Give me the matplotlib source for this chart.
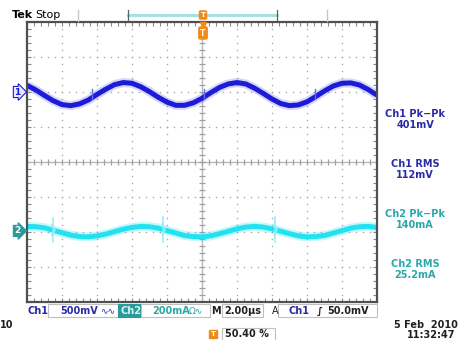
import matplotlib.pyplot as plt
import numpy as np

# screen size in pixels
W, H = 469, 340

# trace samples, x in divisions (0..10), y in divisions from screen centre
x_div = np.arange(0, 10.01, 0.25)
ch1_y = [2.19, 2.06, 1.90, 1.75, 1.64, 1.61, 1.66, 1.77, 1.93, 2.08,
         2.21, 2.27, 2.25, 2.15, 2.01, 1.85, 1.71, 1.62, 1.62, 1.69,
         1.82, 1.98, 2.13, 2.23, 2.27, 2.23, 2.11, 1.96, 1.80, 1.67,
         1.61, 1.63, 1.72, 1.87, 2.03, 2.17, 2.25, 2.26, 2.20, 2.07, 1.91]
ch2_y = [-1.84, -1.85, -1.88, -1.95, -2.02, -2.09, -2.13, -2.14, -2.11, -2.06,
         -1.99, -1.92, -1.87, -1.84, -1.85, -1.89, -1.96, -2.03, -2.10, -2.13,
         -2.14, -2.11, -2.05, -1.98, -1.91, -1.86, -1.84, -1.86, -1.91, -1.98,
         -2.05, -2.11, -2.14, -2.13, -2.10, -2.03, -1.96, -1.89, -1.85, -1.84, -1.87]

# small switching glitches on the traces
ch1_spikes = [1.86, 5.06, 8.23]
ch2_spikes = [0.74, 3.89, 7.09]

# measurement readouts
meas_names = ['Ch1 Pk\u2212Pk', 'Ch1 RMS', 'Ch2 Pk\u2212Pk', 'Ch2 RMS']
meas_values = ['401mV', '112mV', '140mA', '25.2mA']

CH1 = '#1c1cd8'
CH1_TXT = '#2b2ba6'
CH2 = '#22e2f2'
CH2_TXT = '#2aa8a8'
GRID = '#a8a8a8'
ORANGE = '#f08a1c'

plt.rcParams['font.family'] = 'DejaVu Sans'

fig = plt.figure(figsize=(W / 100, H / 100), dpi=100)
ax = fig.add_axes([27 / W, 1 - 302 / H, 350 / W, 280 / H])
ax.set_xlim(0, 10)
ax.set_ylim(-4, 4)


def fx(px):
    return px / W


def fy(py):
    return 1 - py / H


# dotted graticule
dots = np.arange(0, 10.01, 0.2)
for gx in range(1, 10):
    if gx == 5:
        continue
    ax.plot(np.full(41, gx), np.arange(-4, 4.01, 0.2), ls='none', marker='o',
            ms=1.1, mec='none', mfc=GRID)
for gy in range(-3, 4):
    if gy == 0:
        continue
    ax.plot(dots, np.full(len(dots), gy), ls='none', marker='o',
            ms=1.1, mec='none', mfc=GRID)

# centre cross with small ticks
ax.axhline(0, color='#b8b8b8', lw=1.0)
ax.axvline(5, color='#b8b8b8', lw=1.0)
ax.plot(dots, np.zeros(len(dots)), ls='none', marker='|', ms=5, mew=0.9, color='#a0a0a0')
ax.plot(np.full(41, 5), np.arange(-4, 4.01, 0.2), ls='none', marker='_', ms=5,
        mew=0.9, color='#a0a0a0')

# frame ticks
ax.set_xticks(np.arange(0, 10.01, 1))
ax.set_xticks(np.arange(0, 10.01, 0.2), minor=True)
ax.set_yticks(np.arange(-4, 4.01, 1))
ax.set_yticks(np.arange(-4, 4.01, 0.2), minor=True)
ax.tick_params(which='both', direction='in', length=3, width=0.8, color='#8a8a8a',
               top=True, right=True, labelbottom=False, labelleft=False)
for s in ax.spines.values():
    s.set_color('#505050')
    s.set_linewidth(1.6)

# traces
ax.plot(x_div, ch1_y, color=CH1, lw=6.5, alpha=0.18, solid_capstyle='butt')
ax.plot(x_div, ch1_y, color=CH1, lw=3.6, solid_capstyle='butt')
ax.plot(x_div, ch2_y, color=CH2, lw=6.5, alpha=0.25, solid_capstyle='butt')
ax.plot(x_div, ch2_y, color=CH2, lw=3.6, solid_capstyle='butt')

for sx in ch1_spikes:
    yv = np.interp(sx, x_div, ch1_y)
    ax.plot([sx, sx], [yv - 0.05, yv + 0.24], color='#6a6aee', lw=1.0)
for sx in ch2_spikes:
    yv = np.interp(sx, x_div, ch2_y)
    ax.plot([sx, sx], [yv - 0.35, yv + 0.35], color='#8ef0f8', lw=1.1)
    ax.plot([sx - 0.03, sx + 0.06, sx - 0.03], [yv - 0.16, yv, yv + 0.16],
            color='#8ef0f8', lw=1.1)

# channel ground markers
ax.text(-0.27, 2.0, '1', color=CH1, fontsize=6.5, weight='bold', ha='center',
        va='center', clip_on=False,
        bbox=dict(boxstyle='rarrow,pad=0.12', fc='#e6e6ff', ec=CH1, lw=0.8))
ax.text(-0.27, -1.97, '2', color='white', fontsize=6.5, weight='bold', ha='center',
        va='center', clip_on=False,
        bbox=dict(boxstyle='rarrow,pad=0.12', fc='#2a9a9a', ec='#2a9a9a', lw=0.8))

# header
fig.text(fx(12), fy(15), 'Tek', fontsize=8, weight='bold', va='center')
fig.text(fx(35), fy(15), 'Stop', fontsize=8, va='center')
fig.add_artist(plt.Line2D([fx(78), fx(78)], [fy(10), fy(21)], color='#c8c8c8', lw=1))
fig.add_artist(plt.Line2D([fx(327), fx(327)], [fy(10), fy(21)], color='#c8c8c8', lw=1))
fig.add_artist(plt.Line2D([fx(128), fx(277)], [fy(15), fy(15)], color='#a6e2e2', lw=2.2))
for bx in (128, 277):
    fig.add_artist(plt.Line2D([fx(bx), fx(bx)], [fy(10), fy(20)], color='#606060', lw=0.9))
fig.text(fx(203), fy(15), 'T', fontsize=5, color='white', weight='bold', ha='center',
         va='center', bbox=dict(boxstyle='round,pad=0.15', fc=ORANGE, ec=ORANGE))
fig.text(fx(203), fy(33), 'T', fontsize=5.5, color='white', weight='bold', ha='center',
         va='center', bbox=dict(boxstyle='round,pad=0.2', fc=ORANGE, ec=ORANGE))
fig.add_artist(plt.Line2D([fx(203)], [fy(25)], marker='v', ms=4, color=ORANGE))

# right-hand readouts
for i, (name, val) in enumerate(zip(meas_names, meas_values)):
    c = CH1_TXT if i < 2 else CH2_TXT
    yy = 114 + 50 * i
    fig.text(fx(415), fy(yy), name, fontsize=7, weight='bold', color=c, ha='center', va='center')
    fig.text(fx(415), fy(yy + 11), val, fontsize=7, weight='bold', color=c, ha='center', va='center')


# status line
def box(x0, x1, y0=304, y1=317, fc='white', ec='#c0c0c0'):
    fig.add_artist(plt.Rectangle((fx(x0), fy(y1)), fx(x1) - fx(x0), fy(y0) - fy(y1),
                                 fc=fc, ec=ec, lw=0.8))


box(48, 118)
box(118, 141, fc='#2a9a9a', ec='#2a9a9a')
box(141, 210)
box(222, 263)
box(278, 377)
sy = fy(311)
fig.text(fx(27), sy, 'Ch1', fontsize=7, weight='bold', color=CH1_TXT, va='center')
fig.text(fx(60), sy, '500mV', fontsize=7, weight='bold', color=CH1_TXT, va='center')
fig.text(fx(100), sy, '\u223f\u223f', fontsize=6.5, color=CH1_TXT, va='center')
fig.text(fx(120), sy, 'Ch2', fontsize=7, weight='bold', color='#d8f4f4', va='center')
fig.text(fx(152), sy, '200mA', fontsize=7, weight='bold', color=CH2_TXT, va='center')
fig.text(fx(189), sy, '\u03a9\u223f', fontsize=6.5, color=CH2_TXT, va='center')
fig.text(fx(211), sy, 'M', fontsize=7, weight='bold', color='#202020', va='center')
fig.text(fx(224), sy, '2.00\u00b5s', fontsize=7, weight='bold', color='#202020', va='center')
fig.text(fx(272), sy, 'A', fontsize=7, color='#202020', va='center')
fig.text(fx(288), sy, 'Ch1', fontsize=7, weight='bold', color=CH1_TXT, va='center')
fig.text(fx(317), sy, '\u222b', fontsize=7, weight='bold', color='#202020', va='center')
fig.text(fx(327), sy, '50.0mV', fontsize=7, weight='bold', color='#202020', va='center')

# footer
fig.text(fx(0), fy(325), '10', fontsize=7, weight='bold', color='#202020', va='center')
fig.text(fx(458), fy(325), '5 Feb  2010', fontsize=7, weight='bold', color='#202020',
         ha='right', va='center')
fig.text(fx(455), fy(335), '11:32:47', fontsize=7, weight='bold', color='#202020',
         ha='right', va='center')
fig.text(fx(213), fy(334), 'T', fontsize=5, color='white', weight='bold', ha='center',
         va='center', bbox=dict(boxstyle='square,pad=0.15', fc=ORANGE, ec=ORANGE))
box(222, 275, 328, 341)
fig.text(fx(225), fy(334), '50.40 %', fontsize=7, weight='bold', color='#202020', va='center')

fig.savefig('out.png', dpi=100)
